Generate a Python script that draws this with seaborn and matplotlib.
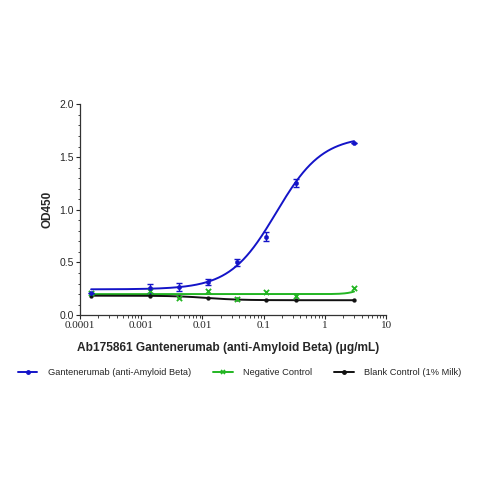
import numpy as np
import pandas as pd
import matplotlib
matplotlib.use('Agg')
import matplotlib.pyplot as plt
import matplotlib.ticker as mticker
import seaborn as sns

# ── DATA ──────────────────────────────────────────────
conc = [0.000152, 0.00137, 0.0041, 0.0123, 0.037, 0.111, 0.333, 3.0]
blue_od = [0.21, 0.255, 0.27, 0.315, 0.50, 0.745, 1.255, 1.63]
blue_err = [0.0, 0.045, 0.04, 0.03, 0.03, 0.04, 0.035, 0.0]
green_od = [0.215, 0.23, 0.165, 0.225, 0.15, 0.22, 0.18, 0.255]
black_od = [0.18, 0.185, 0.175, 0.16, 0.15, 0.14, 0.143, 0.143]

# 4PL fit parameters: bottom, top, ec50, hill
blue_fit = (0.245, 1.70, 0.16, 1.15)
green_fit = (0.20, 0.30, 4.0, 4.0)
black_fit = (0.185, 0.142, 0.012, 1.6)

labels = ['Gantenerumab (anti-Amyloid Beta)', 'Negative Control',
          'Blank Control (1% Milk)']
colors = ['#1414c8', '#22b522', '#111111']

df = pd.DataFrame({'conc': conc, 'blue': blue_od, 'green': green_od,
                   'black': black_od})


def four_pl(x, p):
    bottom, top, ec50, hill = p
    return bottom + (top - bottom) / (1 + (ec50 / x) ** hill)


sns.set_style('ticks')

fig = plt.figure(figsize=(4.79, 4.79), dpi=100)
ax = fig.add_axes([0.167, 0.342, 0.639, 0.44])

xs = np.logspace(np.log10(conc[0]), np.log10(conc[-1]), 300)
curves = [blue_fit, green_fit, black_fit]

for fit, c in zip(curves, colors):
    sns.lineplot(x=xs, y=four_pl(xs, fit), color=c, lw=1.4, ax=ax)

ax.errorbar(df['conc'], df['blue'], yerr=blue_err, fmt='none',
            ecolor=colors[0], elinewidth=1.0, capsize=2, capthick=1.0)
sns.scatterplot(data=df, x='conc', y='black', color=colors[2], marker='o',
                s=8, edgecolor=colors[2], ax=ax, zorder=4)
sns.scatterplot(data=df, x='conc', y='green', color=colors[1], marker='x',
                s=14, linewidth=1.3, ax=ax, zorder=4)
sns.scatterplot(data=df, x='conc', y='blue', color=colors[0], marker='o',
                s=10, edgecolor=colors[0], ax=ax, zorder=5)

ax.set_xscale('log')
ax.set_xlim(0.0001, 10)
ax.set_ylim(0, 2.0)
ax.set_xticks([0.0001, 0.001, 0.01, 0.1, 1, 10])
ax.set_xticklabels(['0.0001', '0.001', '0.01', '0.1', '1', '10'],
                   family='Liberation Serif', fontsize=8)
ax.xaxis.set_minor_locator(mticker.LogLocator(base=10, subs=np.arange(2, 10)))
ax.xaxis.set_minor_formatter(mticker.NullFormatter())
ax.set_yticks([0, 0.5, 1.0, 1.5, 2.0])
ax.set_yticklabels(['0.0', '0.5', '1.0', '1.5', '2.0'],
                   family='Liberation Sans', fontsize=7.5)
ax.yaxis.set_minor_locator(mticker.MultipleLocator(0.1))
ax.tick_params(which='major', length=3, width=0.8, pad=1.5)
ax.tick_params(which='minor', length=1.8, width=0.6)
sns.despine(ax=ax)
for s in ['left', 'bottom']:
    ax.spines[s].set_linewidth(0.9)
    ax.spines[s].set_color('#333333')

ax.set_xlabel('Ab175861 Gantenerumab (anti-Amyloid Beta) (\u03bcg/mL)',
              family='Liberation Sans', fontweight='bold', fontsize=8.6,
              labelpad=8)
ax.xaxis.set_label_coords(0.483, -0.125)
ax.set_ylabel('OD450', family='Liberation Sans', fontweight='bold',
              fontsize=8.5, labelpad=4)

# legend
handles = [
    plt.Line2D([], [], color=colors[0], lw=1.4, marker='o', ms=2.5),
    plt.Line2D([], [], color=colors[1], lw=1.4, marker='x', ms=3, mew=1.2),
    plt.Line2D([], [], color=colors[2], lw=1.4, marker='o', ms=2.5),
]
fig.legend(handles, labels, loc='center', bbox_to_anchor=(0.5, 0.222),
           ncol=3, frameon=False, prop={'family': 'Liberation Sans', 'size': 6.7},
           handlelength=2.1, columnspacing=2.4, handletextpad=1.1)

fig.savefig('out.png', dpi=100, facecolor='white')
